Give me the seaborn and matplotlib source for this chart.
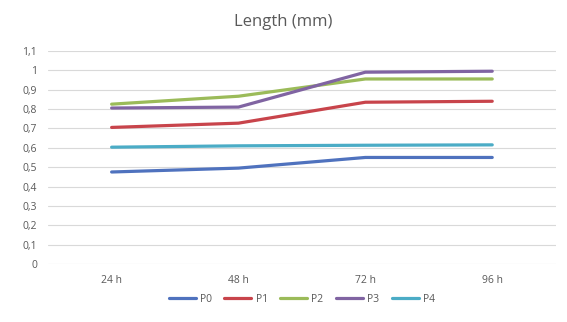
import pandas as pd
import seaborn as sbn
from matplotlib import pyplot as plt

# values
times = ["24 h", "48 h", "72 h", "96 h"]
p0 = [0.475, 0.495, 0.55, 0.55]
p1 = [0.705, 0.727, 0.835, 0.84]
p2 = [0.825, 0.866, 0.955, 0.955]
p3 = [0.805, 0.81, 0.99, 0.995]
p4 = [0.603, 0.61, 0.613, 0.615]
series = ["P0", "P1", "P2", "P3", "P4"]
colors = ["#4F72BE", "#C8444B", "#9BBB59", "#8064A2", "#4BACC6"]

df = pd.DataFrame({"P0": p0, "P1": p1, "P2": p2, "P3": p3, "P4": p4}, index=times)
long_df = df.reset_index(names="time").melt(id_vars="time", var_name="series", value_name="length")
long_df["pos"] = long_df["time"].map({t: i for i, t in enumerate(times)})

sbn.set_theme(style="white")
plt.rcParams["font.family"] = ["Open Sans", "DejaVu Sans"]
txt = "#595959"

fig = plt.figure(figsize=(5.67, 3.22), dpi=100)
ax = fig.add_axes([0.085, 0.18, 0.895, 0.662])

sbn.lineplot(data=long_df, x="pos", y="length", hue="series", hue_order=series,
             palette=colors, linewidth=2.3, ax=ax, legend=True)

ax.set_xlim(-0.5, 3.5)
ax.set_ylim(0, 1.1)
yt = [i / 10 for i in range(12)]
ax.set_yticks(yt)
ax.set_yticklabels([f"{v:g}".replace(".", ",") for v in yt], fontsize=7.5, color=txt)
ax.set_xticks(range(len(times)))
ax.set_xticklabels(times, fontsize=7.5, color=txt)
ax.tick_params(axis="both", length=0, pad=8)
ax.grid(axis="y", color="#D9D9D9", linewidth=0.8)
ax.set_axisbelow(True)
for s in ax.spines.values():
    s.set_visible(False)
ax.set_xlabel("")
ax.set_ylabel("")

fig.suptitle("Length (mm)", x=0.5, y=0.955, fontsize=12, color=txt)

ax.legend(loc="upper center", bbox_to_anchor=(0.5, -0.095), ncol=5, frameon=False,
          fontsize=7.5, handlelength=2.6, handletextpad=0.4, columnspacing=1.2,
          labelcolor=txt)

plt.savefig("out.png", dpi=100)
